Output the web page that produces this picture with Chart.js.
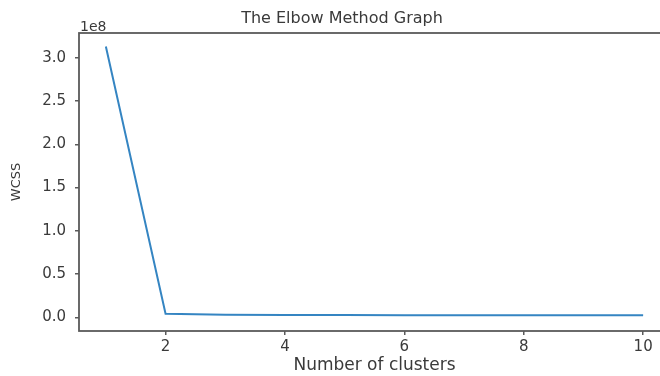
<!DOCTYPE html>
<html>
<head>
<meta charset="utf-8">
<script src="https://cdn.jsdelivr.net/npm/chart.js@4.4.0/dist/chart.umd.min.js"></script>
<style>
  html, body { margin: 0; padding: 0; background: #fff; overflow: hidden; }
  #wrap { width: 660px; height: 376px; overflow: hidden; }
</style>
</head>
<body>
<div id="wrap"><canvas id="c" width="684" height="376" style="width:684px;height:376px;display:block"></canvas></div>
<script>
const clusters = [1, 2, 3, 4, 5, 6, 7, 8, 9, 10];
const wcss = [3.13e8, 4.3e6, 3.2e6, 2.9e6, 2.75e6, 2.65e6, 2.6e6, 2.55e6, 2.5e6, 2.45e6];
const xTicks = [2, 4, 6, 8, 10];
const yTicks = [0, 0.5e8, 1.0e8, 1.5e8, 2.0e8, 2.5e8, 3.0e8];
const titleText = 'The Elbow Method Graph';
const xLabel = 'Number of clusters';
const yLabel = 'WCSS';
const offsetText = '1e8';

const textColor = '#3a3a3a';
const spineColor = '#5a5a5a';
const FONT = 'DejaVu Sans';

const decor = {
  id: 'decor',
  afterDatasetsDraw(chart) {
    const {ctx, chartArea: a} = chart;
    ctx.save();
    ctx.strokeStyle = spineColor;
    ctx.lineWidth = 1.8;
    ctx.strokeRect(a.left, a.top, a.right - a.left, a.bottom - a.top);
    ctx.fillStyle = textColor;
    ctx.font = '14px "' + FONT + '"';
    ctx.textAlign = 'left';
    ctx.textBaseline = 'alphabetic';
    ctx.fillText(offsetText, a.left + 1, a.top - 2);
    ctx.font = '16px "' + FONT + '"';
    ctx.textAlign = 'center';
    ctx.textBaseline = 'middle';
    ctx.fillText(titleText, 342, 19);
    ctx.restore();
  }
};

new Chart(document.getElementById('c'), {
  type: 'line',
  data: {
    datasets: [{
      data: clusters.map((x, i) => ({x: x, y: wcss[i]})),
      borderColor: '#3585c2',
      borderWidth: 2,
      pointRadius: 0,
      fill: false,
      tension: 0
    }]
  },
  options: {
    responsive: false,
    animation: false,
    layout: { padding: { left: 0, right: 14, top: 33, bottom: 0 } },
    plugins: {
      legend: { display: false },
      tooltip: { enabled: false },
      title: { display: false }
    },
    scales: {
      x: {
        type: 'linear',
        min: 0.55,
        max: 10.45,
        afterBuildTicks(s) { s.ticks = xTicks.map(v => ({value: v})); },
        afterFit(s) { s.height = 45; },
        border: { display: false },
        grid: { drawOnChartArea: false, drawTicks: true, tickLength: 4, color: spineColor, lineWidth: 1.5 },
        ticks: { color: textColor, font: { family: FONT, size: 15 }, padding: 3, maxRotation: 0 },
        title: { display: true, text: xLabel, color: textColor, font: { family: FONT, size: 17 }, padding: { top: 0, bottom: 0 } }
      },
      y: {
        type: 'linear',
        min: -0.156e8,
        max: 3.285e8,
        afterBuildTicks(s) { s.ticks = yTicks.map(v => ({value: v})); },
        afterFit(s) { s.width = 79; },
        border: { display: false },
        grid: { drawOnChartArea: false, drawTicks: true, tickLength: 4, color: spineColor, lineWidth: 1.5 },
        ticks: { color: textColor, font: { family: FONT, size: 15 }, padding: 9, callback: v => (v / 1e8).toFixed(1) },
        title: { display: true, text: yLabel, color: textColor, font: { family: FONT, size: 13 }, padding: { top: 9, bottom: 4 } }
      }
    }
  },
  plugins: [decor]
});
</script>
</body>
</html>
